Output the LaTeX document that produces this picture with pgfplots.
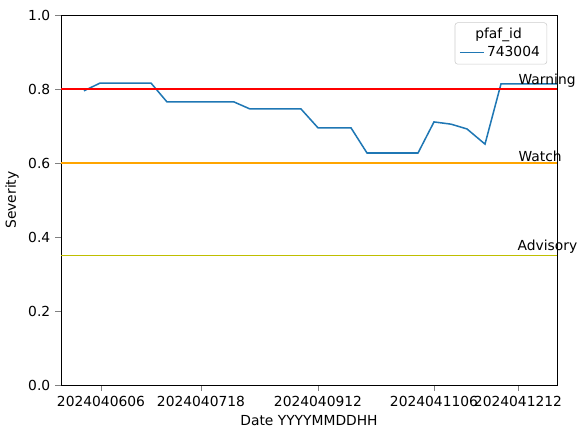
\documentclass[border=0pt]{standalone}
\usepackage{pgfplots}
\pgfplotsset{compat=1.18}
\usepackage{fontspec}
\setmainfont{DejaVu Sans}
\definecolor{mplblue}{RGB}{31,119,180}
\definecolor{mplorange}{RGB}{255,165,0}
\definecolor{mplyellow}{RGB}{191,191,0}
\begin{document}
\begin{tikzpicture}
\path[use as bounding box] (-0.61in,-0.53in) rectangle (5.27in,3.85in);
\begin{axis}[
  scale only axis, width=4.96in, height=3.70in,
  at={(0,0)}, anchor=south west, clip=false,
  xmin=61, xmax=557, ymin=0, ymax=1,
  xtick={101,201,318,434,518},
  xticklabels={2024040606,2024040718,2024040912,2024041106,2024041212},
  ytick={0,0.2,0.4,0.6,0.8,1.0},
  yticklabel style={/pgf/number format/fixed,/pgf/number format/precision=1,/pgf/number format/fixed zerofill},
  /pgf/number format/assume math mode=true,
  tick label style={font=\fontsize{10}{12}\selectfont},
  label style={font=\fontsize{10}{12}\selectfont},
  xlabel={Date YYYYMMDDHH}, ylabel={Severity},
  tick align=outside, tick pos=left,
  legend style={at={(0.98,0.98)}, anchor=north east, font=\fontsize{10}{12}\selectfont, draw=black!20, rounded corners=2pt},
  legend cell align=left,
  legend image post style={line width=1.1pt},
]
\addlegendimage{empty legend}
\addlegendentry{\hspace{-0.3cm}pfaf\_id}
\addplot[color=mplblue, line width=1.1pt] coordinates {
(84,0.795)(100,0.816)(151,0.816)(167,0.765)(234,0.765)(250,0.746)(301,0.746)
(318,0.695)(351,0.695)(367,0.627)(418,0.627)(434,0.711)(451,0.705)(467,0.692)
(485,0.651)(501,0.814)(557,0.814)};
\addlegendentry{743004}
\addplot[red, line width=1.1pt, forget plot] coordinates {(61,0.8)(557,0.8)};
\addplot[color=mplorange, line width=1.1pt, forget plot] coordinates {(61,0.6)(557,0.6)};
\addplot[color=mplyellow, line width=1.1pt, forget plot] coordinates {(61,0.35)(557,0.35)};
\node[anchor=south west, inner sep=1pt, font=\fontsize{10}{12}\selectfont] at (axis cs:517,0.8) {Warning};
\node[anchor=south west, inner sep=1pt, font=\fontsize{10}{12}\selectfont] at (axis cs:517,0.6) {Watch};
\node[anchor=south west, inner sep=1pt, font=\fontsize{10}{12}\selectfont] at (axis cs:516,0.35) {Advisory};
\end{axis}
\end{tikzpicture}
\end{document}
